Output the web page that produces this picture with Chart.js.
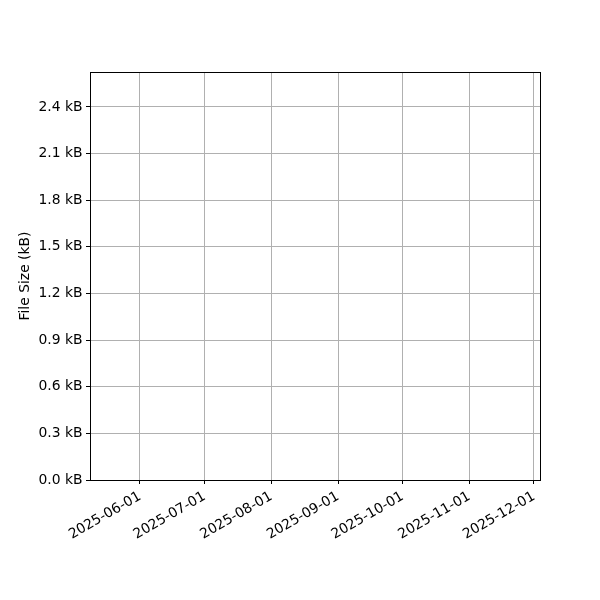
<!DOCTYPE html>
<html>
<head>
<meta charset="utf-8">
<script src="https://cdn.jsdelivr.net/npm/chart.js@4.4.1/dist/chart.umd.min.js"></script>
<style>
html,body{margin:0;padding:0;background:#fff;}
canvas{display:block;}
</style>
</head>
<body>
<canvas id="c" width="600" height="600"></canvas>
<script>
// Data (the reference chart shows no plotted marks)
const dates = [];          // ISO dates of file-size samples
const fileSizesKB = [];    // file sizes in kB
const xTickLabels = ['2025-06-01','2025-07-01','2025-08-01','2025-09-01','2025-10-01','2025-11-01','2025-12-01'];
const yTickValues = [0, 0.3, 0.6, 0.9, 1.2, 1.5, 1.8, 2.1, 2.4];
const xRange = ['2025-05-08T18:40', '2025-12-03T19:00'];
const yRange = [0, 2.625];

const DAY = 86400000;
const toDay = s => Date.parse(s + (s.length <= 10 ? 'T00:00:00Z' : ':00Z')) / DAY;

const points = dates.map((d, i) => ({x: toDay(d), y: fileSizesKB[i]}));
const font = {family: 'DejaVu Sans', size: 13.9};

const frame = {
  id: 'frame',
  afterDraw(chart) {
    const {ctx, chartArea: a} = chart;
    ctx.save();
    ctx.strokeStyle = '#000';
    ctx.lineWidth = 1;
    ctx.strokeRect(Math.round(a.left) + 0.5, Math.round(a.top) + 0.5,
                   Math.round(a.right - a.left), Math.round(a.bottom - a.top));
    ctx.restore();
  }
};

new Chart(document.getElementById('c'), {
  type: 'line',
  data: {
    datasets: [{
      label: 'File Size',
      data: points,
      borderColor: '#1f77b4',
      backgroundColor: '#1f77b4',
      borderWidth: 1.5,
      pointRadius: 0
    }]
  },
  options: {
    responsive: false,
    devicePixelRatio: 1,
    animation: false,
    layout: {padding: {top: 72, right: 60, left: 0, bottom: 0}},
    plugins: {legend: {display: false}, tooltip: {enabled: false}},
    scales: {
      x: {
        type: 'linear',
        min: toDay(xRange[0]),
        max: toDay(xRange[1]),
        afterFit(s) { s.height = 120; },
        afterBuildTicks(s) { s.ticks = xTickLabels.map(l => ({value: toDay(l)})); },
        ticks: {
          font, color: '#000', padding: 4.3, labelOffset: 0,
          minRotation: 30, maxRotation: 30, autoSkip: false,
          callback: v => new Date(v * DAY).toISOString().slice(0, 10)
        },
        grid: {color: '#b0b0b0', tickColor: '#000', tickLength: 4, lineWidth: 1},
        border: {color: '#000', width: 1}
      },
      y: {
        type: 'linear',
        min: yRange[0],
        max: yRange[1],
        afterFit(s) { s.width = 90; },
        afterBuildTicks(s) { s.ticks = yTickValues.map(v => ({value: v})); },
        ticks: {
          font, color: '#000', padding: 3.5,
          callback: v => v.toFixed(1) + ' kB'
        },
        grid: {color: '#b0b0b0', tickColor: '#000', tickLength: 4, lineWidth: 1},
        border: {color: '#000', width: 1},
        title: {display: true, text: 'File Size (kB)', font, color: '#000', padding: {top: 17, bottom: 0}}
      }
    }
  },
  plugins: [frame]
});
</script>
</body>
</html>
